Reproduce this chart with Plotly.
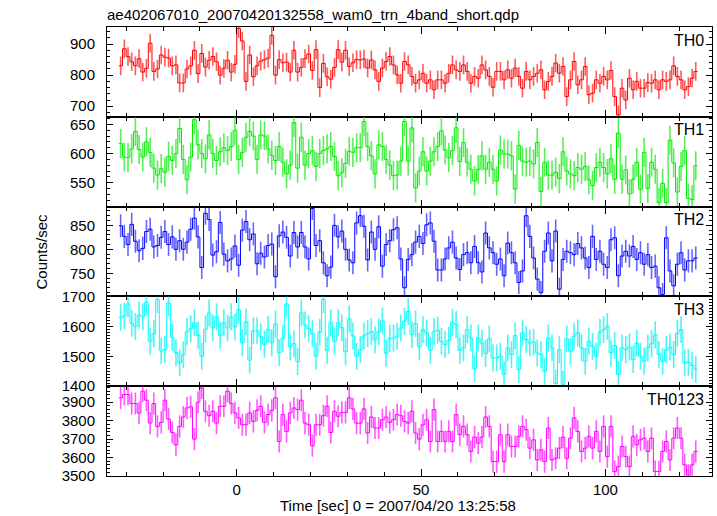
import numpy as np
import plotly.graph_objects as go
from plotly.subplots import make_subplots

TITLE = "ae402067010_20070420132558_wam0_trn_4band_short.qdp"
X_TITLE = "Time [sec] 0 = 2007/04/20 13:25:58"
Y_TITLE = "Counts/sec"
BIN_START = -32.0
BIN_WIDTH = 1.0

panel_names = ["TH0", "TH1", "TH2", "TH3", "TH0123"]

th0 = [830,885,860,843,830,853,810,822,903,812,820,865,858,855,830,833,775,775,820,830,
       880,805,870,826,848,860,843,800,822,848,810,835,950,910,780,865,795,830,845,850,
       855,928,800,850,840,842,810,880,810,825,853,868,815,882,760,838,795,787,825,882,
       842,880,828,840,850,
       849,852,823,849,817,780,823,844,860,
       833,801,774,844,833,796,774,785,806,
       774,785,753,785,785,774,806,833,817,
       812,833,812,774,796,790,833,817,796,
       761,812,812,785,817,790,823,796,758,
       812,785,796,806,817,753,780,796,839,
       806,828,731,785,844,769,785,828,737,
       742,785,774,796,785,815,731,672,758,720,
       790,753,780,758,758,776,774,785,753,
       785,780,785,830,796,785,753,763,790,812]

th1 = [617,594,593,608,638,607,594,620,602,575,563,574,568,595,588,600,643,590,555,594,
       658,615,600,591,632,600,588,603,610,605,612,640,590,602,628,638,630,590,632,630,
       608,597,588,612,585,565,580,653,575,628,580,600,605,578,600,605,608,612,595,562,
       567,583,604,602,610,610,655,612,596,565,615,612,590,580,
       562,563,587,655,587,644,541,570,603,
       570,587,603,612,639,606,593,605,644,
       586,619,585,573,553,573,596,573,585,
       573,553,606,599,599,596,539,614,587,
       585,587,582,619,535,585,563,563,568,
       557,603,570,565,562,576,573,578,555,
       545,576,585,576,565,591,556,635,556,
       572,531,556,585,539,602,540,585,573,
       516,549,516,623,584,534,578,605,523,
       521,579]

th2 = [849,827,810,852,817,797,802,837,842,805,808,825,837,810,826,800,818,800,815,842,
       865,826,762,875,862,788,795,856,790,776,780,807,767,840,858,820,832,770,792,784,
       808,811,743,828,836,825,786,835,805,835,805,780,885,808,818,772,745,763,850,826,
       838,800,778,772,855,870,848,778,836,800,847,765,810,818,
       841,845,780,720,779,789,815,827,812,
       851,855,817,757,757,780,803,815,782,
       758,789,793,772,806,772,753,834,803,
       793,769,780,745,813,793,772,731,755,
       870,827,782,738,710,796,834,776,838,
       717,779,796,793,789,812,803,782,762,
       827,779,796,769,762,820,824,745,786,
       796,786,806,779,793,769,789,762,765,
       720,706,824,755,724,769,793,757,776,
       776,782]

th3 = [1630,1635,1675,1610,1600,1637,1632,1680,1550,1575,1690,1518,1522,1678,1563,1512,1478,1505,1582,1592,
       1612,1570,1500,1590,1645,1595,1632,1570,1612,1595,1632,1598,1655,1545,1615,1487,1585,1585,1565,1540,
       1590,1545,1608,1512,1560,1675,1532,1542,1482,1645,1605,1592,1575,1500,1580,1690,1520,1612,1550,1612,
       1595,1515,1625,1568,1500,1522,1568,1575,1582,1555,1582,1618,1510,1560,
       1561,1567,1594,1617,1650,1572,1609,1533,1589,
       1578,1520,1583,1587,1550,1539,1553,1613,1606,
       1520,1528,1589,1561,1458,1561,1544,1509,1558,
       1494,1494,1500,1439,1528,1506,1569,1456,1578,
       1556,1544,1547,1511,1506,1450,1561,1528,1409,
       1522,1406,1558,1517,1567,1578,1528,1483,1550,
       1533,1500,1580,1589,1600,1511,1536,1439,1528,
       1522,1531,1489,1544,1500,1483,1528,1542,1572,
       1506,1483,1522,1531,1506,1576,1589,1478,1480,
       1469,1456]

th0123 = [3924,3942,3942,3893,3893,3842,3960,3911,3787,3893,3769,3791,3911,3809,3736,3669,3769,3820,3869,3875,
          3700,3900,3978,3851,3827,3851,3787,3878,3878,3960,3893,3842,3815,3778,3778,3842,3796,3856,3878,3791,
          3833,3856,3924,3687,3833,3742,3842,3869,3860,3911,3787,3778,3664,3778,3778,3827,3878,3736,3851,3824,
          3845,3845,3924,3864,3787,3787,3864,3733,3820,3760,3760,3805,3820,3790,
          3805,3833,3827,3796,3787,3851,3733,3700,3778,
          3805,3687,3860,3687,3742,3687,3742,3687,
          3833,3724,3769,3724,3633,3711,3678,3711,3820,
          3769,3578,3578,3724,3578,3724,3660,3660,3715,
          3769,3751,3651,3696,3587,3642,3578,3760,3587,
          3596,3651,3711,3596,3705,3815,3742,3633,3651,
          3715,3651,3742,3633,3769,3605,3769,3524,3551,
          3660,3605,3551,3715,3669,3696,3705,3633,3705,
          3524,3524,3633,3687,3587,3705,3760,3705,3560,3505,
          3560,3633]

errors = [30, 25, 24, 45, 60]
series = [th0, th1, th2, th3, th0123]
colors = ["#ff0000", "#00ee00", "#0000ff", "#00ffff", "#ff00ff"]
err_colors = ["rgba(255,0,0,0.65)", "rgba(0,230,0,0.65)", "rgba(0,0,255,0.6)",
              "rgba(0,240,240,0.7)", "rgba(255,0,255,0.65)"]
y_ranges = [[666, 955], [509, 663], [702, 889], [1399.9, 1700.1], [3499.9, 3987]]
y_dticks = [100, 50, 50, 100, 100]
y_minor = [20, 10, 10, 10, 20]

FONT = "Liberation Sans, Arial, Helvetica, sans-serif"

W, H = 717, 516
ML, MR, MT, MB = 107, 5, 27, 40

fig = make_subplots(rows=5, cols=1, shared_xaxes=True, vertical_spacing=0)

for r, (vals, col, ecol, err) in enumerate(zip(series, colors, err_colors, errors), start=1):
    n = len(vals)
    edges = BIN_START + np.arange(n + 1) * BIN_WIDTH
    centers = BIN_START + (np.arange(n) + 0.5) * BIN_WIDTH
    fig.add_trace(go.Scatter(
        x=centers, y=vals, mode="markers",
        marker=dict(size=1, color="rgba(0,0,0,0)"),
        error_y=dict(type="constant", value=err, color=ecol, thickness=1.6, width=0),
        hoverinfo="skip", showlegend=False), row=r, col=1)
    fig.add_trace(go.Scatter(
        x=edges, y=list(vals) + [vals[-1]], mode="lines", line_shape="hv",
        line=dict(color=col, width=1), showlegend=False), row=r, col=1)
    fig.update_yaxes(range=y_ranges[r - 1], dtick=y_dticks[r - 1], tick0=0,
                     minor=dict(dtick=y_minor[r - 1], ticklen=3, ticks="inside", tickcolor="black"),
                     row=r, col=1)

fig.update_xaxes(range=[-35.2, 128.9], dtick=50, tick0=0, ticks="inside", ticklen=7,
                 tickcolor="black", showline=True, linecolor="black", linewidth=1,
                 mirror="ticks", showgrid=False, zeroline=False,
                 minor=dict(dtick=10, ticklen=4, ticks="inside", tickcolor="black"),
                 tickfont=dict(family=FONT, size=15, color="black"))
fig.update_yaxes(ticks="inside", ticklen=6, tickcolor="black", showline=True,
                 linecolor="black", linewidth=1, mirror="ticks", showgrid=False,
                 zeroline=False, ticklabelstandoff=8,
                 tickfont=dict(family=FONT, size=15, color="black"))

plot_w = W - ML - MR
plot_h = H - MT - MB

annotations = []
for r, name in enumerate(panel_names, start=1):
    yref = "y domain" if r == 1 else f"y{r} domain"
    annotations.append(dict(text=name, x=0.99, y=0.97, xref="x domain", yref=yref,
                            xanchor="right", yanchor="top", showarrow=False,
                            font=dict(family=FONT, size=16, color="black")))
annotations.append(dict(text=X_TITLE, x=(398 - ML) / plot_w, y=-(506 - (H - MB)) / plot_h,
                        xref="paper", yref="paper", xanchor="center", yanchor="middle",
                        showarrow=False, font=dict(family=FONT, size=15, color="black")))
annotations.append(dict(text=Y_TITLE, x=(41 - ML) / plot_w, y=0.5, xref="paper", yref="paper",
                        textangle=-90, showarrow=False, xanchor="center", yanchor="middle",
                        font=dict(family=FONT, size=15, color="black")))

fig.update_layout(
    width=W, height=H,
    margin=dict(l=ML, r=MR, t=MT, b=MB),
    paper_bgcolor="white", plot_bgcolor="white",
    title=dict(text=TITLE, x=ML / W, xanchor="left", y=1 - 15 / H, yanchor="middle",
               font=dict(family=FONT, size=15, color="black")),
    showlegend=False,
    annotations=annotations,
)

fig.write_html("out.html",
               config={"displayModeBar": False},
               post_script="document.body.style.margin='0';document.body.style.padding='0';")
